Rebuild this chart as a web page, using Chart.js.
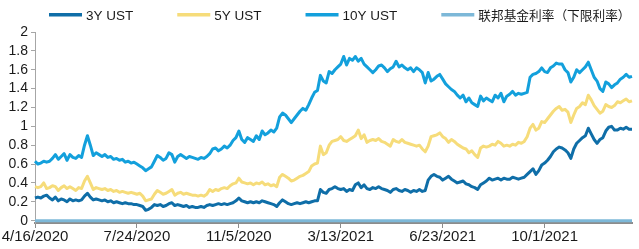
<!DOCTYPE html>
<html>
<head>
<meta charset="utf-8">
<script src="https://cdn.jsdelivr.net/npm/chart.js@4.4.1/dist/chart.umd.min.js"></script>
<style>
html,body{margin:0;padding:0;background:#fff;}
#wrap{width:639px;height:249px;position:relative;}
</style>
</head>
<body>
<div id="wrap"><canvas id="c"></canvas></div>
<script>
// ---- data ----
const tickLabels = ["4/16/2020", "7/24/2020", "11/5/2020", "3/13/2021", "6/23/2021", "10/1/2021"];
const TICK_STEP = 35;

const seriesNames = ["3Y UST", "5Y UST", "10Y UST", "联邦基金利率（下限利率）"];

const ust3y = [
  0.24,0.25,0.24,0.26,0.27,0.24,0.22,0.25,0.21,0.23,
  0.22,0.20,0.23,0.21,0.22,0.21,0.22,0.26,0.29,0.25,
  0.22,0.23,0.22,0.21,0.22,0.20,0.21,0.19,0.20,0.19,
  0.18,0.19,0.18,0.18,0.17,0.17,0.16,0.15,0.11,0.12,
  0.14,0.17,0.16,0.17,0.15,0.16,0.18,0.19,0.16,0.17,
  0.16,0.15,0.16,0.14,0.15,0.14,0.14,0.15,0.14,0.16,
  0.17,0.16,0.17,0.18,0.17,0.18,0.17,0.18,0.19,0.21,
  0.24,0.21,0.20,0.19,0.20,0.19,0.20,0.19,0.21,0.20,
  0.19,0.18,0.17,0.15,0.19,0.22,0.20,0.18,0.17,0.18,
  0.19,0.18,0.19,0.20,0.19,0.20,0.21,0.21,0.33,0.30,
  0.29,0.33,0.34,0.36,0.34,0.33,0.34,0.31,0.33,0.32,
  0.38,0.40,0.35,0.38,0.34,0.33,0.35,0.34,0.36,0.34,
  0.33,0.32,0.30,0.33,0.34,0.32,0.31,0.33,0.32,0.30,
  0.32,0.31,0.33,0.31,0.32,0.43,0.47,0.49,0.47,0.46,
  0.43,0.45,0.47,0.44,0.42,0.40,0.41,0.42,0.39,0.38,
  0.36,0.35,0.33,0.38,0.40,0.42,0.45,0.43,0.44,0.45,
  0.43,0.45,0.44,0.44,0.46,0.45,0.44,0.45,0.46,0.49,
  0.52,0.55,0.49,0.53,0.59,0.61,0.64,0.68,0.73,0.76,
  0.78,0.77,0.75,0.72,0.66,0.76,0.82,0.85,0.88,0.90,
  0.98,0.92,0.86,0.82,0.86,0.88,0.95,0.99,1.00,0.96,
  0.96,0.98,0.97,0.99,0.97,0.97
];

const ust5y = [
  0.36,0.35,0.36,0.40,0.34,0.35,0.37,0.36,0.32,0.35,
  0.37,0.34,0.36,0.34,0.32,0.35,0.34,0.42,0.47,0.40,
  0.33,0.35,0.34,0.33,0.34,0.32,0.33,0.31,0.32,0.30,
  0.31,0.30,0.29,0.30,0.29,0.28,0.29,0.26,0.21,0.22,
  0.23,0.28,0.32,0.30,0.28,0.29,0.31,0.33,0.27,0.29,
  0.30,0.28,0.29,0.28,0.27,0.27,0.26,0.27,0.26,0.28,
  0.33,0.31,0.33,0.32,0.34,0.35,0.34,0.37,0.39,0.40,
  0.45,0.41,0.40,0.39,0.40,0.38,0.40,0.39,0.41,0.38,
  0.39,0.37,0.38,0.36,0.46,0.49,0.47,0.45,0.42,0.43,
  0.45,0.47,0.48,0.50,0.52,0.58,0.60,0.61,0.79,0.70,
  0.72,0.80,0.84,0.85,0.86,0.89,0.85,0.84,0.86,0.88,
  0.90,0.96,0.87,0.91,0.83,0.85,0.86,0.85,0.87,0.84,
  0.83,0.81,0.79,0.86,0.84,0.83,0.86,0.83,0.82,0.81,
  0.80,0.79,0.80,0.76,0.73,0.79,0.89,0.90,0.91,0.93,
  0.89,0.87,0.83,0.86,0.84,0.81,0.79,0.77,0.76,0.72,
  0.74,0.70,0.67,0.77,0.79,0.78,0.79,0.81,0.80,0.84,
  0.82,0.79,0.80,0.79,0.81,0.80,0.83,0.82,0.84,0.89,
  0.98,1.02,0.96,0.98,1.05,1.04,1.08,1.12,1.16,1.19,
  1.21,1.17,1.18,1.15,1.04,1.12,1.19,1.21,1.25,1.23,
  1.33,1.28,1.22,1.18,1.14,1.16,1.23,1.21,1.20,1.22,
  1.26,1.25,1.27,1.29,1.26,1.27
];

const ust10y = [
  0.63,0.60,0.61,0.63,0.62,0.63,0.66,0.70,0.65,0.68,
  0.71,0.64,0.70,0.67,0.66,0.69,0.67,0.80,0.90,0.80,
  0.69,0.72,0.70,0.68,0.70,0.67,0.68,0.65,0.66,0.64,
  0.65,0.62,0.63,0.61,0.62,0.60,0.58,0.56,0.53,0.55,
  0.57,0.63,0.69,0.67,0.64,0.66,0.72,0.70,0.62,0.68,
  0.70,0.68,0.66,0.68,0.67,0.66,0.65,0.67,0.66,0.68,
  0.71,0.76,0.77,0.74,0.76,0.79,0.77,0.80,0.85,0.88,
  0.95,0.86,0.83,0.88,0.86,0.84,0.90,0.86,0.95,0.91,
  0.93,0.96,0.94,0.98,1.10,1.14,1.12,1.08,1.04,1.08,
  1.12,1.16,1.19,1.17,1.23,1.30,1.36,1.38,1.54,1.48,
  1.46,1.58,1.56,1.60,1.63,1.66,1.74,1.65,1.72,1.70,
  1.74,1.69,1.72,1.66,1.63,1.60,1.57,1.60,1.64,1.65,
  1.62,1.58,1.61,1.63,1.69,1.63,1.65,1.62,1.60,1.62,
  1.58,1.62,1.60,1.57,1.46,1.57,1.48,1.50,1.53,1.55,
  1.50,1.45,1.42,1.39,1.37,1.33,1.30,1.33,1.26,1.30,
  1.25,1.23,1.21,1.32,1.27,1.30,1.28,1.26,1.33,1.30,
  1.35,1.26,1.32,1.34,1.37,1.33,1.35,1.34,1.35,1.36,
  1.52,1.55,1.56,1.58,1.62,1.58,1.57,1.62,1.64,1.67,
  1.66,1.66,1.60,1.57,1.47,1.52,1.60,1.57,1.60,1.63,
  1.68,1.60,1.52,1.48,1.40,1.37,1.47,1.45,1.41,1.44,
  1.46,1.50,1.52,1.55,1.52,1.53
];

const fedFundsLower = [
  0,0,0,0,0,0,0,0,0,0, 0,0,0,0,0,0,0,0,0,0,
  0,0,0,0,0,0,0,0,0,0, 0,0,0,0,0,0,0,0,0,0,
  0,0,0,0,0,0,0,0,0,0, 0,0,0,0,0,0,0,0,0,0,
  0,0,0,0,0,0,0,0,0,0, 0,0,0,0,0,0,0,0,0,0,
  0,0,0,0,0,0,0,0,0,0, 0,0,0,0,0,0,0,0,0,0,
  0,0,0,0,0,0,0,0,0,0, 0,0,0,0,0,0,0,0,0,0,
  0,0,0,0,0,0,0,0,0,0, 0,0,0,0,0,0,0,0,0,0,
  0,0,0,0,0,0,0,0,0,0, 0,0,0,0,0,0,0,0,0,0,
  0,0,0,0,0,0,0,0,0,0, 0,0,0,0,0,0,0,0,0,0,
  0,0,0,0,0,0,0,0,0,0, 0,0,0,0,0,0,0,0,0,0,
  0,0,0,0,0,0
];

// category positions (one per observation)
const categories = ust3y.map((_, i) => i);

// ---- styling ----
const FONT = '"Liberation Sans", Arial, "Noto Sans CJK SC", sans-serif';
Chart.defaults.font.family = FONT;
Chart.defaults.color = '#1a1a1a';

const colors = ['#0f6ea8', '#f6dc7a', '#13a0dc', '#7db8d8'];

const lineLegend = {
  id: 'lineLegend',
  afterDraw(chart) {
    const ctx = chart.ctx;
    let x = 49;
    const yc = 15;
    ctx.save();
    ctx.textBaseline = 'middle';
    ctx.textAlign = 'left';
    chart.data.datasets.forEach((d, i) => {
      ctx.font = (i === 3 ? '12.7px ' : '13.5px ') + FONT;
      ctx.fillStyle = d.borderColor;
      ctx.fillRect(x, yc - 2, 33, 3.5);
      ctx.fillStyle = '#1a1a1a';
      ctx.fillText(d.label, x + 37, yc + 1);
      x += 37 + ctx.measureText(d.label).width + 44;
    });
    ctx.restore();
  }
};

new Chart(document.getElementById('c'), {
  type: 'line',
  data: {
    labels: categories,
    datasets: [
      { label: seriesNames[0], data: ust3y, borderColor: colors[0], backgroundColor: colors[0], borderWidth: 3 },
      { label: seriesNames[1], data: ust5y, borderColor: colors[1], backgroundColor: colors[1], borderWidth: 3 },
      { label: seriesNames[2], data: ust10y, borderColor: colors[2], backgroundColor: colors[2], borderWidth: 3 },
      { label: seriesNames[3], data: fedFundsLower, borderColor: colors[3], backgroundColor: colors[3], borderWidth: 3, clip: false }
    ]
  },
  options: {
    responsive: true,
    maintainAspectRatio: false,
    animation: false,
    layout: { padding: { top: 32, right: 7, left: 0, bottom: 0 } },
    plugins: { legend: { display: false }, tooltip: { enabled: false } },
    elements: { point: { radius: 0 }, line: { tension: 0, borderJoinStyle: 'round' } },
    scales: {
      x: {
        type: 'category',
        offset: false,
        grid: { display: true, drawOnChartArea: false, drawTicks: true, tickLength: 5, color: '#8c8c8c' },
        border: { display: true, color: '#8c8c8c', width: 2 },
        ticks: {
          autoSkip: false, maxRotation: 0, minRotation: 0, padding: 0,
          font: { size: 15 }, color: '#1a1a1a',
          callback: (v) => tickLabels[v / TICK_STEP]
        },
        afterBuildTicks: (axis) => { axis.ticks = axis.ticks.filter(t => t.value % TICK_STEP === 0); },
        afterFit: (axis) => { axis.height = 26; }
      },
      y: {
        min: -0.025,
        max: 2,
        ticks: {
          stepSize: 0.2, includeBounds: false, autoSkip: false, padding: 3,
          font: { size: 14 }, color: '#1a1a1a',
          callback: (v) => String(Math.round(v * 10) / 10)
        },
        grid: { display: true, drawOnChartArea: false, drawTicks: true, tickLength: 4, color: '#a6a6a6' },
        border: { display: true, color: '#a6a6a6', width: 1 },
        afterBuildTicks: (axis) => { axis.ticks = axis.ticks.filter(t => t.value > -0.001); },
        afterFit: (axis) => { axis.width = 35; }
      }
    }
  },
  plugins: [lineLegend]
});
</script>
</body>
</html>
